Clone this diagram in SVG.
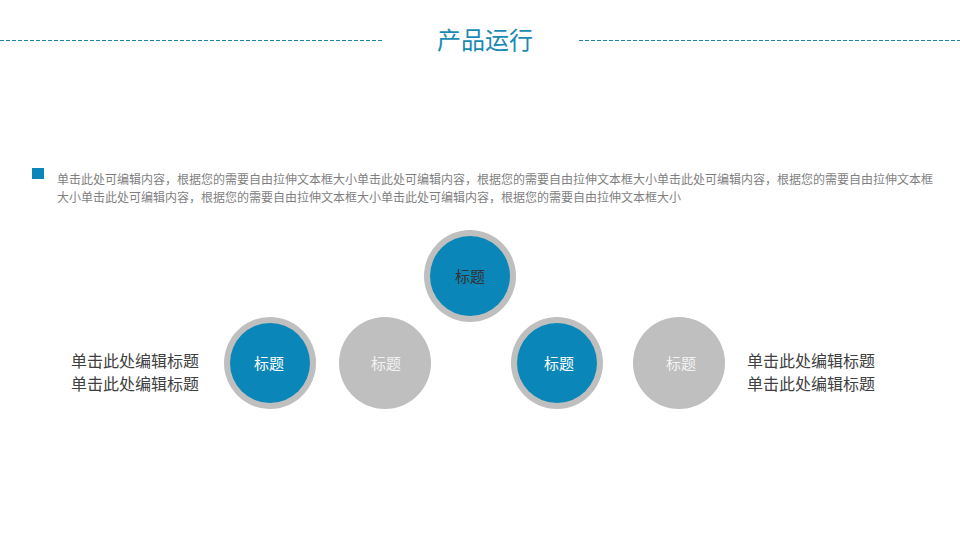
<svg xmlns="http://www.w3.org/2000/svg" width="960" height="540" viewBox="0 0 960 540">
<style>
.cjk{font-family:"Noto Sans CJK SC","Liberation Sans",sans-serif;}
.dash{stroke:#1c84a6;stroke-width:1.2;stroke-dasharray:4 2;fill:none;}
.ring{fill:#bfbfbf;}
.blue{fill:#0a86b8;}
.lbl{font-size:15px;text-anchor:middle;}
.side{font-size:16px;fill:#404040;}
</style>
<rect width="960" height="540" fill="#ffffff"/>
<g id="header">
<line class="dash" x1="0" y1="40.5" x2="383" y2="40.5"/>
<line class="dash" x1="579" y1="40.5" x2="960" y2="40.5"/>
<text class="cjk" x="485" y="49" font-size="24" fill="#1a8ab4" text-anchor="middle">产品运行</text>
</g>
<g id="intro">
<rect x="32" y="168" width="12" height="11" fill="#0a86b8"/>
<text class="cjk" font-size="12" fill="#7f7f7f"><tspan x="57" y="184">单击此处可编辑内容，根据您的需要自由拉伸文本框大小单击此处可编辑内容，根据您的需要自由拉伸文本框大小单击此处可编辑内容，根据您的需要自由拉伸文本框</tspan><tspan x="57" y="202">大小单击此处可编辑内容，根据您的需要自由拉伸文本框大小单击此处可编辑内容，根据您的需要自由拉伸文本框大小</tspan></text>
</g>
<g id="node-top">
<circle class="ring" cx="470" cy="276" r="46"/>
<circle class="blue" cx="470" cy="276" r="40"/>
<text class="cjk lbl" x="470" y="282" fill="#333333">标题</text>
</g>
<g id="node-left-blue">
<circle class="ring" cx="270" cy="363" r="46"/>
<circle class="blue" cx="270" cy="363" r="40"/>
<text class="cjk lbl" x="269" y="369" fill="#ffffff">标题</text>
</g>
<g id="node-left-gray">
<circle class="ring" cx="385" cy="363" r="46"/>
<text class="cjk lbl" x="386" y="369" fill="#f2f2f2">标题</text>
</g>
<g id="node-right-blue">
<circle class="ring" cx="557" cy="363" r="46"/>
<circle class="blue" cx="557" cy="363" r="40"/>
<text class="cjk lbl" x="559" y="369" fill="#ffffff">标题</text>
</g>
<g id="node-right-gray">
<circle class="ring" cx="679" cy="363" r="46"/>
<text class="cjk lbl" x="681" y="369" fill="#f2f2f2">标题</text>
</g>
<g id="label-left">
<text class="cjk side"><tspan x="71" y="367">单击此处编辑标题</tspan><tspan x="71" y="390">单击此处编辑标题</tspan></text>
</g>
<g id="label-right">
<text class="cjk side"><tspan x="747" y="367">单击此处编辑标题</tspan><tspan x="747" y="390">单击此处编辑标题</tspan></text>
</g>
<g id="connectors"></g>
</svg>
